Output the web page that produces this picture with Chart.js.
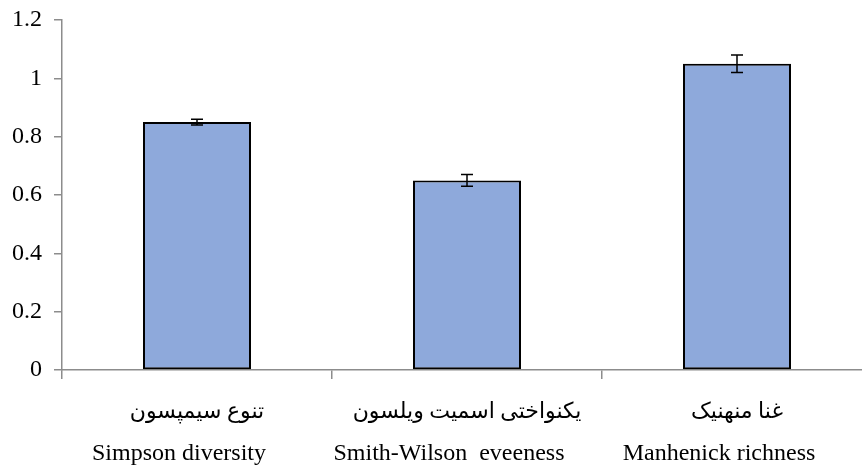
<!DOCTYPE html>
<html>
<head>
<meta charset="utf-8">
<script src="https://cdn.jsdelivr.net/npm/chart.js@4/dist/chart.umd.min.js"></script>
<style>
  html, body { margin: 0; padding: 0; background: #fff; overflow: hidden; }
  #wrap { width: 862px; height: 472px; overflow: hidden; }
</style>
</head>
<body>
<div id="wrap"><canvas id="c" width="880" height="472"></canvas></div>
<script>
// Diversity indices with standard errors
const persianLabels = ['تنوع سیمپسون', 'یکنواختی اسمیت ویلسون', 'غنا منهنیک'];
const englishLabels = ['Simpson diversity', 'Smith-Wilson  eveeness', 'Manhenick richness'];
const indexValues = [0.85, 0.65, 1.05];
const indexErrors = [0.01, 0.02, 0.03];
const yTicks = [0, 0.2, 0.4, 0.6, 0.8, 1, 1.2];

const serif = '"Liberation Serif", "Times New Roman", "DejaVu Sans", serif';

// Error bars drawn over each bar from the y scale
const errorBars = {
  id: 'errorBars',
  afterDatasetsDraw(chart) {
    const ctx = chart.ctx;
    const ys = chart.scales.y;
    const meta = chart.getDatasetMeta(0);
    ctx.save();
    ctx.strokeStyle = '#000';
    ctx.lineWidth = 1.5;
    meta.data.forEach((bar, i) => {
      const v = indexValues[i], e = indexErrors[i];
      const x = bar.x;
      const yTop = ys.getPixelForValue(v + e);
      const yBot = ys.getPixelForValue(v - e);
      ctx.beginPath();
      ctx.moveTo(x, yTop); ctx.lineTo(x, yBot);
      ctx.moveTo(x - 6, yTop); ctx.lineTo(x + 6, yTop);
      ctx.moveTo(x - 6, yBot); ctx.lineTo(x + 6, yBot);
      ctx.stroke();
    });
    ctx.restore();
  }
};

// Second label line (English names) under the Persian tick labels
const englishLine = {
  id: 'englishLine',
  afterDraw(chart) {
    const ctx = chart.ctx;
    const xs = chart.scales.x;
    ctx.save();
    ctx.fillStyle = '#000';
    ctx.font = '24px ' + serif;
    ctx.textAlign = 'center';
    ctx.textBaseline = 'middle';
    englishLabels.forEach((t, i) => {
      ctx.fillText(t, xs.getPixelForValue(i) - 18, 454);
    });
    ctx.restore();
  }
};

new Chart(document.getElementById('c'), {
  type: 'bar',
  data: {
    labels: persianLabels,
    datasets: [{
      data: indexValues,
      backgroundColor: '#8EA9DB',
      borderColor: '#000',
      borderWidth: 2,
      borderSkipped: false,
      categoryPercentage: 1.0,
      barPercentage: 0.4
    }]
  },
  options: {
    responsive: false,
    animation: false,
    layout: { padding: { top: 20, right: 8, left: 0, bottom: 0 } },
    plugins: { legend: { display: false }, tooltip: { enabled: false } },
    scales: {
      x: {
        afterFit(s) { s.height = 102; s.paddingLeft = 0; s.paddingRight = 0; },
        border: { display: true, color: '#8c8c8c', width: 1.5 },
        grid: { display: true, drawOnChartArea: false, drawTicks: true, tickLength: 9, color: '#8c8c8c', lineWidth: 1.5, offset: true },
        ticks: {
          color: '#000',
          padding: 20,
          font: { family: serif, size: 22 },
          maxRotation: 0, autoSkip: false
        }
      },
      y: {
        min: 0, max: 1.2,
        afterFit(s) { s.width = 62; s.paddingTop = 0; s.paddingBottom = 0; },
        afterBuildTicks(s) { s.ticks = yTicks.map(v => ({ value: v })); },
        border: { display: true, color: '#8c8c8c', width: 1.5 },
        grid: { display: true, drawOnChartArea: false, drawTicks: true, tickLength: 8, color: '#8c8c8c', lineWidth: 1.5 },
        ticks: {
          color: '#000',
          padding: 12,
          font: { family: serif, size: 24 },
          callback: v => String(Number(v.toFixed(1)))
        }
      }
    }
  },
  plugins: [errorBars, englishLine]
});
</script>
</body>
</html>
